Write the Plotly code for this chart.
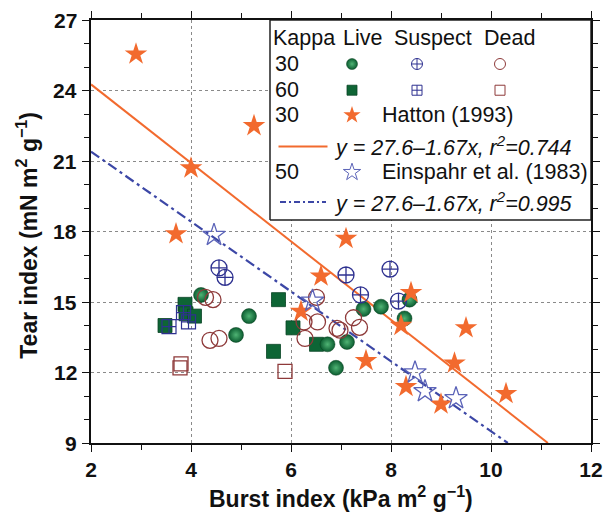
import plotly.graph_objects as go

# ---- Data -------------------------------------------------------------
# Kappa 30 / 60 handsheets, classified by fibre condition
k30_live_x = [4.2, 5.16, 4.9, 6.73, 6.9, 7.45, 7.8, 8.27, 8.37, 7.12]
k30_live_y = [15.3, 14.4, 13.6, 13.2, 12.2, 14.7, 14.8, 14.3, 15.1, 13.3]
k60_live_x = [3.88, 3.9, 4.07, 3.48, 5.75, 5.65, 6.04, 6.51]
k60_live_y = [14.9, 14.5, 14.4, 14.0, 15.1, 12.9, 13.9, 13.2]

k30_susp_x = [4.56, 4.68, 7.1, 7.98, 7.39, 8.15]
k30_susp_y = [16.45, 16.05, 16.15, 16.4, 15.3, 15.04]
k60_susp_x = [3.56, 3.95, 3.85]
k60_susp_y = [13.95, 14.15, 14.55]

k30_dead_x = [4.29, 4.44, 4.38, 4.56, 6.51, 6.26, 6.53, 6.28, 6.92, 6.98, 7.25, 7.37]
k30_dead_y = [15.2, 15.1, 13.37, 13.45, 15.2, 14.15, 14.15, 13.45, 13.88, 13.8, 14.33, 13.92]
k60_dead_x = [3.8, 3.78, 5.88]
k60_dead_y = [12.37, 12.2, 12.05]

# Literature data
hatton_x = [2.9, 4.0, 5.26, 3.7, 7.1, 6.6, 6.2, 8.4, 8.2, 9.5, 9.27, 7.5, 8.3, 9.0, 10.3]
hatton_y = [25.55, 20.7, 22.5, 17.9, 17.7, 16.1, 14.6, 15.4, 14.0, 13.9, 12.4, 12.5, 11.4, 10.65, 11.1]
einspahr_x = [4.46, 6.43, 8.48, 8.68, 9.3]
einspahr_y = [17.85, 15.05, 12.0, 11.2, 10.9]

# Regression lines (intercept, slope)
hatton_fit = [27.6, -1.67]
einspahr_fit = [24.37, -1.487]

x_ticks = [2, 4, 6, 8, 10, 12]
y_ticks = [9, 12, 15, 18, 21, 24, 27]

# ---- Styling ----------------------------------------------------------
ORANGE = "#F26A2E"
BLUE_LINE = "#3C47A6"
STAR_BLUE = "#5B63B8"
NAVY = "#2E3190"
GREEN = "#0B5C30"
GREEN_HI = "#4FB474"
DEAD = "#8E3A3A"
FONT = "Liberation Sans, Arial, sans-serif"

X_MIN, X_MAX = 2, 12
Y_MIN, Y_MAX = 9, 27


def fit_line(fit):
    a, b = fit
    x_end = (Y_MIN - a) / b  # where the line reaches the bottom axis
    xs = [X_MIN, x_end]
    return xs, [a + b * x for x in xs]


fig = go.Figure()

hx, hy = fit_line(hatton_fit)
fig.add_trace(go.Scatter(x=hx, y=hy, mode="lines",
                         line=dict(color=ORANGE, width=2)))
ex, ey = fit_line(einspahr_fit)
fig.add_trace(go.Scatter(x=ex, y=ey, mode="lines",
                         line=dict(color=BLUE_LINE, width=2.2, dash="10px,4px,3px,4px")))

sphere = dict(symbol="circle", size=15, color=GREEN,
              gradient=dict(type="radial", color=GREEN_HI),
              line=dict(color="#08401F", width=0.5))
square = dict(symbol="square", size=14, color="#0E6535",
              line=dict(color="#0A4526", width=0.8))
circ_cross = dict(symbol="circle-cross-open", size=16, color=NAVY, line=dict(width=1.3))
sq_cross = dict(symbol="square-cross-open", size=14, color=NAVY, line=dict(width=1.2))
circ_open = dict(symbol="circle-open", size=16, color=DEAD, line=dict(width=1.3))
sq_open = dict(symbol="square-open", size=14, color=DEAD, line=dict(width=1.3))
star_fill = dict(symbol="star", size=17, color=ORANGE, line=dict(width=0))
star_open = dict(symbol="star-open", size=17, color=STAR_BLUE, line=dict(width=1.3))

for xs, ys, mk in [
    (k60_live_x, k60_live_y, square),
    (k60_susp_x, k60_susp_y, sq_cross),
    (k60_dead_x, k60_dead_y, sq_open),
    (k30_live_x, k30_live_y, sphere),
    (k30_dead_x, k30_dead_y, circ_open),
    (k30_susp_x, k30_susp_y, circ_cross),
    (hatton_x, hatton_y, star_fill),
    (einspahr_x, einspahr_y, star_open),
]:
    fig.add_trace(go.Scatter(x=xs, y=ys, mode="markers", marker=mk))

# ---- Key table (drawn on an overlay axis spanning the plot area) ------
BOX_L, BOX_B = 0.358, 0.527
fig.add_trace(go.Scatter(
    x=[BOX_L, 1, 1, BOX_L, BOX_L], y=[BOX_B, BOX_B, 1, 1, BOX_B],
    mode="lines", fill="toself", fillcolor="white",
    line=dict(color="#222", width=1.5), xaxis="x2", yaxis="y2"))

COL_LIVE, COL_SUSP, COL_DEAD = 0.522, 0.652, 0.818
ROW_HEAD, ROW_30, ROW_60, ROW_H, ROW_HF, ROW_E, ROW_EF = 0.957, 0.896, 0.834, 0.775, 0.701, 0.640, 0.570

key_marks = [
    (COL_LIVE, ROW_30, dict(sphere, size=11)),
    (COL_SUSP, ROW_30, dict(circ_cross, size=11, line=dict(width=1))),
    (COL_DEAD, ROW_30, dict(circ_open, size=11, line=dict(width=1))),
    (COL_LIVE, ROW_60, dict(square, size=10)),
    (COL_SUSP, ROW_60, dict(sq_cross, size=10, line=dict(width=1))),
    (COL_DEAD, ROW_60, dict(sq_open, size=10, line=dict(width=1))),
    (COL_LIVE, ROW_H, dict(star_fill, size=13)),
    (COL_LIVE, ROW_E, dict(star_open, size=13, line=dict(width=1))),
]
for kx, ky, mk in key_marks:
    fig.add_trace(go.Scatter(x=[kx], y=[ky], mode="markers", marker=mk,
                             xaxis="x2", yaxis="y2"))

fig.add_trace(go.Scatter(x=[0.375, 0.473], y=[ROW_HF, ROW_HF], mode="lines",
                         line=dict(color=ORANGE, width=2), xaxis="x2", yaxis="y2"))
fig.add_trace(go.Scatter(x=[0.378, 0.470], y=[ROW_EF, ROW_EF], mode="lines",
                         line=dict(color=BLUE_LINE, width=2, dash="6px,3px,2px,3px"),
                         xaxis="x2", yaxis="y2"))

KEY_FONT = dict(family=FONT, size=21.5, color="#111")
ann = []


def txt(x, y, s, xanchor="left"):
    ann.append(dict(x=x, y=y, xref="paper", yref="paper", text=s, showarrow=False,
                    xanchor=xanchor, yanchor="middle", font=KEY_FONT))


txt(0.360, ROW_HEAD, "Kappa")
txt(0.543, ROW_HEAD, "Live", "center")
txt(0.684, ROW_HEAD, "Suspect", "center")
txt(0.836, ROW_HEAD, "Dead", "center")
txt(0.363, ROW_30, "30")
txt(0.363, ROW_60, "60")
txt(0.363, ROW_H, "30")
txt(0.578, ROW_H, "Hatton (1993)")
txt(0.482, ROW_HF, "<i>y = %.1f–%.2fx, r<sup>2</sup>=0.744</i>" % (hatton_fit[0], -hatton_fit[1]))
txt(0.363, ROW_E, "50")
txt(0.578, ROW_E, "Einspahr et al. (1983)")
txt(0.482, ROW_EF, "<i>y = 27.6–1.67x, r<sup>2</sup>=0.995</i>")

TICK_FONT = dict(family=FONT, size=21, color="#111", weight="bold")
TITLE_FONT = dict(family=FONT, size=23, color="#111", weight="bold")

# y tick labels set close to the axis line
for v in y_ticks:
    ann.append(dict(x=0, y=v, xref="paper", yref="y", text=str(v), showarrow=False,
                    xanchor="right", yanchor="middle", xshift=-12, font=TICK_FONT))

ann.append(dict(x=0.5, y=-0.128, xref="paper", yref="paper", showarrow=False,
                text="Burst index (kPa m<sup>2</sup> g<sup>−1</sup>)",
                xanchor="center", yanchor="middle", font=TITLE_FONT))
ann.append(dict(x=-0.128, y=0.49, xref="paper", yref="paper", showarrow=False,
                text="Tear index (mN m<sup>2</sup> g<sup>−1</sup>)", textangle=-90,
                xanchor="center", yanchor="middle", font=TITLE_FONT))

axis_common = dict(
    showline=True, linecolor="#111", linewidth=1.5, mirror="ticks",
    ticks="outside", ticklen=7, tickwidth=1.3, tickcolor="#111",
    showgrid=True, gridcolor="#8a8a8a", gridwidth=1, griddash="dot",
    zeroline=False,
    tickfont=TICK_FONT,
)

fig.update_layout(
    width=614, height=513,
    margin=dict(l=91, r=11, t=13, b=70),
    paper_bgcolor="white", plot_bgcolor="white",
    showlegend=False,
    font=dict(family=FONT),
    xaxis=dict(axis_common, range=[X_MIN, X_MAX], tickvals=x_ticks,
               minor=dict(dtick=1, ticks="outside", ticklen=5, tickcolor="#111", showgrid=False)),
    yaxis=dict(axis_common, range=[Y_MIN, Y_MAX], tickvals=y_ticks, showticklabels=False,
               minor=dict(dtick=1, ticks="outside", ticklen=5, tickcolor="#111", showgrid=False)),
    xaxis2=dict(overlaying="x", range=[0, 1], visible=False, fixedrange=True),
    yaxis2=dict(overlaying="y", range=[0, 1], visible=False, fixedrange=True),
    annotations=ann,
)

fig.write_html("out.html")
